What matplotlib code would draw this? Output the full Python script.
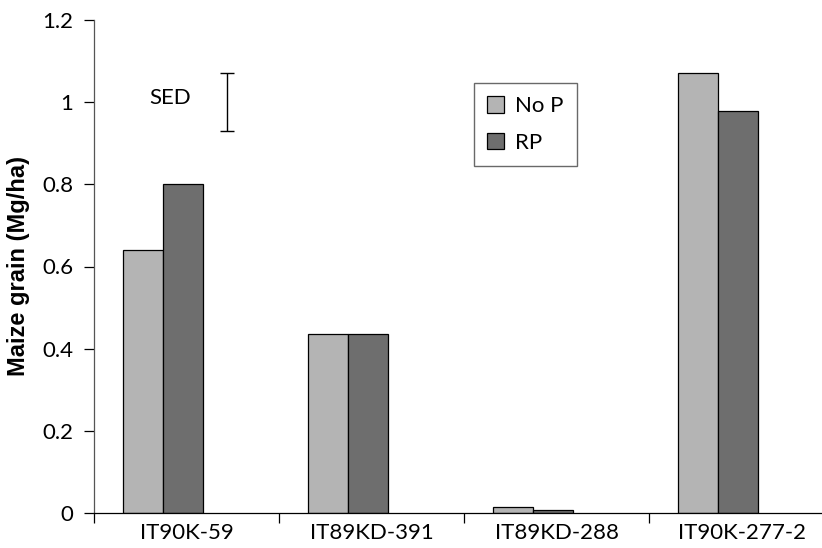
import matplotlib
matplotlib.use("Agg")
import matplotlib.pyplot as plt
import numpy as np

categories = ["IT90K-59", "IT89KD-391", "IT89KD-288", "IT90K-277-2"]
no_p = [0.64, 0.435, 0.015, 1.07]
rp = [0.80, 0.435, 0.008, 0.978]
series_names = ["No P", "RP"]
sed_center = 1.0
sed_half = 0.071
y_ticks = [0, 0.2, 0.4, 0.6, 0.8, 1.0, 1.2]
y_tick_labels = ["0", "0.2", "0.4", "0.6", "0.8", "1", "1.2"]

light = "#b4b4b4"
dark = "#6e6e6e"
tick_font = "Lato"
fs = 16

fig = plt.figure(figsize=(8.22, 5.48), dpi=100)
ax = fig.add_axes([94 / 822, 35 / 548, 740 / 822, 493 / 548])

idx = np.arange(len(categories))
bar_w = 0.216
first_off = 0.157
ax.bar(idx + first_off, no_p, width=bar_w, align="edge", color=light,
       edgecolor="black", linewidth=0.9, label=series_names[0])
ax.bar(idx + first_off + bar_w, rp, width=bar_w, align="edge", color=dark,
       edgecolor="black", linewidth=0.9, label=series_names[1])

ax.set_xlim(0, 4)
ax.set_ylim(0, 1.2)

ax.set_xticks(idx + 0.5)
ax.set_xticklabels(categories, fontsize=fs, family=tick_font)
ax.set_xticks(np.arange(0, 5), minor=True)
ax.tick_params(axis="x", which="major", length=0, pad=7)
ax.tick_params(axis="x", which="minor", length=7, width=0.9, direction="out")

ax.set_yticks(y_ticks)
ax.set_yticklabels(y_tick_labels, fontsize=fs, family=tick_font)
ax.tick_params(axis="y", length=7, width=0.9, direction="out", pad=8)

for side in ("top", "right"):
    ax.spines[side].set_visible(False)
ax.spines["left"].set_color("#555555")
ax.spines["left"].set_linewidth(0.9)
ax.spines["bottom"].set_linewidth(0.9)

ax.set_ylabel("Maize grain (Mg/ha)", fontsize=17, fontweight="bold",
              family="Liberation Sans", labelpad=9)

# standard error of difference marker
ax.errorbar([0.719], [sed_center], yerr=[sed_half], fmt="none",
            ecolor="black", elinewidth=1.0, capsize=5, capthick=1.0)
ax.text(0.41, 1.01, "SED", fontsize=fs, family=tick_font,
        ha="center", va="center")

leg = ax.legend(loc="upper left", bbox_to_anchor=(380 / 740, 1 - 63 / 493),
                prop={"family": tick_font, "size": fs},
                frameon=True, fancybox=False, edgecolor="#444444",
                handlelength=0.75, handleheight=0.75, handletextpad=0.5,
                labelspacing=0.75, borderpad=0.6, borderaxespad=0)
leg.get_frame().set_linewidth(1.0)

fig.savefig("out.png", dpi=100)
